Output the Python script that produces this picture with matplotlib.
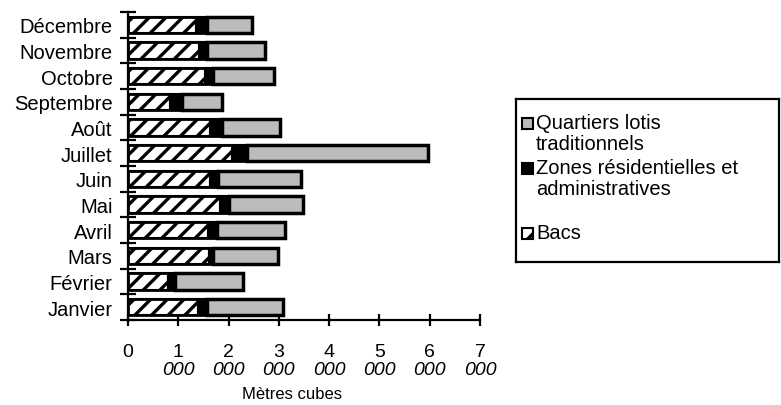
import numpy as np
import matplotlib.pyplot as plt
from matplotlib.patches import Rectangle
from matplotlib.ticker import FixedLocator, FuncFormatter
import matplotlib.transforms as mtransforms

plt.rcParams['font.family'] = ['Liberation Sans', 'DejaVu Sans']
plt.rcParams['hatch.linewidth'] = 2.4

# Monthly volumes (m3), bottom to top
months = ['Janvier', 'Février', 'Mars', 'Avril', 'Mai', 'Juin', 'Juillet',
          'Août', 'Septembre', 'Octobre', 'Novembre', 'Décembre']
bacs = [1390000, 800000, 1610000, 1590000, 1830000, 1630000, 2070000,
        1630000, 830000, 1530000, 1410000, 1350000]
zones = [180000, 130000, 80000, 180000, 180000, 160000, 300000,
         240000, 240000, 160000, 160000, 220000]
quartiers = [1510000, 1360000, 1290000, 1350000, 1470000, 1650000, 3590000,
             1150000, 800000, 1210000, 1150000, 900000]

xticks = [0, 1000000, 2000000, 3000000, 4000000, 5000000, 6000000, 7000000]
series_labels = ['Quartiers lotis\ntraditionnels',
                 'Zones résidentielles et\nadministratives',
                 'Bacs']

bacs = np.array(bacs)
zones = np.array(zones)
quartiers = np.array(quartiers)
y = np.arange(len(months))

fig = plt.figure(figsize=(7.81, 4.06), dpi=100)
ax = fig.add_axes([128 / 781, 1 - 321 / 406, 352 / 781, 308 / 406])

h = 0.64
ax.barh(y, bacs, height=h, color='white', edgecolor='black', hatch='//', linewidth=1.5)
ax.barh(y, zones, left=bacs, height=h, color='black', edgecolor='black', linewidth=1.5)
ax.barh(y, quartiers, left=bacs + zones, height=h, color='#bcbcbc',
        edgecolor='black', linewidth=2.5)
# outline of each whole bar
ax.barh(y, bacs + zones + quartiers, height=h, fill=False, edgecolor='black', linewidth=2)

ax.set_xlim(0, 7000000)
ax.set_ylim(-0.5, len(months) - 0.5)

for s in ['top', 'right']:
    ax.spines[s].set_visible(False)
for s in ['left', 'bottom']:
    ax.spines[s].set_linewidth(1.6)

ax.set_yticks(y)
ax.set_yticklabels(months, fontsize=14.5)
ax.yaxis.set_minor_locator(FixedLocator(np.arange(-0.5, len(months), 1)))
ax.tick_params(axis='y', which='major', length=0, pad=11)
ax.tick_params(axis='y', which='minor', direction='inout', length=11, width=1.6)

ax.xaxis.set_major_locator(FixedLocator(xticks))
ax.xaxis.set_major_formatter(FuncFormatter(lambda v, p: f'{v / 1e6:.0f}'))
ax.tick_params(axis='x', direction='inout', length=9, width=1.6, pad=12, labelsize=14)

trans = mtransforms.blended_transform_factory(ax.transData, ax.transAxes)
for v in xticks[1:]:
    ax.text(v, -0.162, '000', transform=trans, ha='center', va='center',
            fontsize=14, style='italic')

ax.set_xlabel('Mètres cubes', fontsize=12)
ax.xaxis.set_label_coords(0.466, -0.215)

# legend box
lax = fig.add_axes([516 / 781, 1 - 263 / 406, 263 / 781, 163 / 406])
lax.set_xlim(0, 263)
lax.set_ylim(163, 0)
lax.set_xticks([])
lax.set_yticks([])
for s in lax.spines.values():
    s.set_linewidth(1.6)

styles = [dict(facecolor='#bcbcbc', edgecolor='black', linewidth=1.5),
          dict(facecolor='black', edgecolor='black', linewidth=1.5),
          dict(facecolor='white', edgecolor='black', hatch='//', linewidth=1.5)]
rows = [24, 69, 134]
for lab, st, r in zip(series_labels, styles, rows):
    lax.add_patch(Rectangle((6, r - 5), 11, 11, **st))
    lax.text(20, r - 10, lab, ha='left', va='top', fontsize=14.5, linespacing=1.12)

fig.savefig('out.png', dpi=100)
